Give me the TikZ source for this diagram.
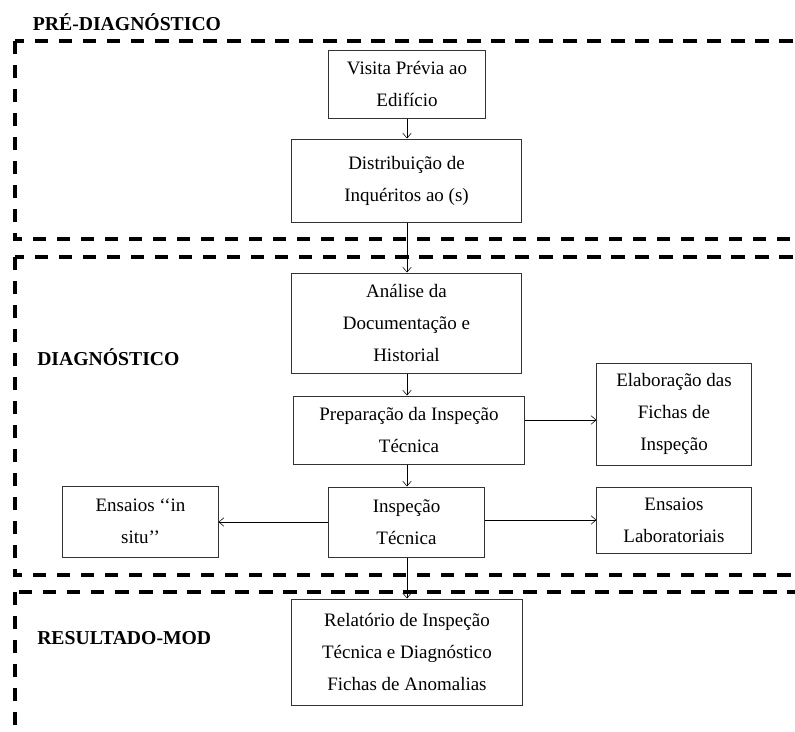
\documentclass[tikz,border=0pt]{standalone}
\usepackage{fontspec}
\setmainfont{Liberation Serif}
\usetikzlibrary{positioning, arrows.meta}

\begin{document}
\begin{tikzpicture}[x=0.025cm, y=-0.025cm,
		>={Straight Barb[length=3.5pt,width=6pt]},
		box/.style={draw=black!80, line width=0.7pt, align=center, inner sep=2pt,
			font=\fontsize{13.5}{22.7}\selectfont},
		phase/.style={draw=black, line width=2.3pt, dash pattern=on 0.33cm off 0.27cm},
		title/.style={font=\fontsize{14}{16}\selectfont\bfseries, inner sep=0}]
		      \useasboundingbox (0,0) rectangle (795,731);
		      \clip (0,0) rectangle (795,731);

		      % fases
		      \draw[phase] (15,41) rectangle (830,239);
		      \draw[phase] (15,257) rectangle (830,575);
		      \draw[phase] (15,592) rectangle (830,770);
		      \node[title] (pre) at (127,22) {PRÉ-DIAGNÓSTICO};
		      \node[title, anchor=west] (diag) at (37,357) {DIAGNÓSTICO};
		      \node[title, anchor=west] (res) at (37,638) {RESULTADO-MOD};

		      \node[box, minimum width=3.9cm, minimum height=1.7cm] (visita) at (407,84) {Visita Prévia ao\\Edifício};
		      \node[box, minimum width=5.725cm, minimum height=2.075cm] (distrib) at (406.5,180.5) {Distribuição de\\Inquéritos ao (s)};
		      \node[box, minimum width=5.725cm, minimum height=2.5cm] (analise) at (406.5,323) {Análise da\\Documentação e\\Historial};
		      \node[box, minimum width=5.75cm, minimum height=1.7cm] (prep) at (409,430) {Preparação da Inspeção\\Técnica};
		      \node[box, minimum width=3.85cm, minimum height=2.55cm] (elab) at (674,414) {Elaboração das\\Fichas de\\Inspeção};
		      \node[box, minimum width=3.875cm, minimum height=1.75cm] (insp) at (406.5,522) {Inspeção\\Técnica};
		      \node[box, minimum width=3.875cm, minimum height=1.775cm] (situ) at (140.5,521.5) {Ensaios ‘‘in\\situ’’};
		      \node[box, minimum width=3.85cm, minimum height=1.65cm] (lab) at (674,520) {Ensaios\\Laboratoriais};
		      \node[box, minimum width=5.75cm, minimum height=2.65cm] (relat) at (407,652) {Relatório de Inspeção\\Técnica e Diagnóstico\\Fichas de Anomalias};

		      \draw[->] (visita.south) -- (visita.south |- distrib.north);
		      \draw[->] (visita.south |- distrib.south) -- (visita.south |- analise.north);
		      \draw[->] (visita.south |- analise.south) -- (visita.south |- prep.north);
		      \draw[->] (visita.south |- prep.south) -- (visita.south |- insp.north);
		      \draw[->] (visita.south |- insp.south) -- (visita.south |- relat.north);
		      \coordinate (pe) at ([yshift=0.25cm]prep.east);
		      \draw[->] (pe) -- (pe -| elab.west);
		      \draw[->] (insp.west) -- (insp.west -| situ.east);
		      \draw[->] ([yshift=0.05cm]insp.east) -- ([yshift=0.05cm]insp.east -| lab.west);

	      \end{tikzpicture}
\end{document}
